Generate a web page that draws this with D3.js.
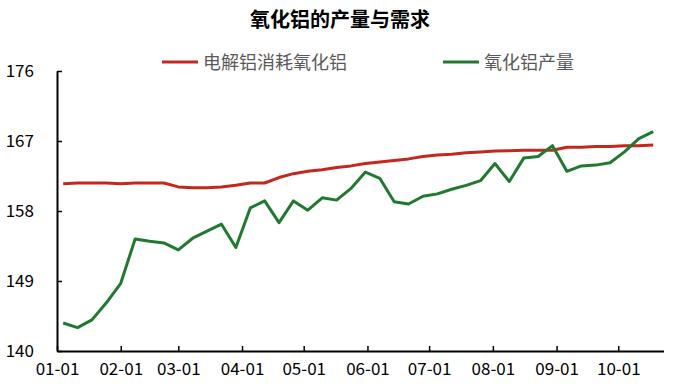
<html>
<script src='https://d3js.org/d3.v7.min.js'></script>
<style>
body {margin:0; background:#fff;}
text {font-family:"Noto Sans CJK SC","Noto Sans",sans-serif;}
</style>
<body onload='init()'>
<svg width=677 height=385></svg>
<script>
// weekly dates
const dates = ["2023-01-04","2023-01-11","2023-01-18","2023-01-25","2023-02-01","2023-02-08","2023-02-15",
  "2023-02-22","2023-03-01","2023-03-08","2023-03-15","2023-03-22","2023-03-29","2023-04-05","2023-04-12",
  "2023-04-19","2023-04-26","2023-05-03","2023-05-10","2023-05-17","2023-05-24","2023-05-31","2023-06-07",
  "2023-06-14","2023-06-21","2023-06-28","2023-07-05","2023-07-12","2023-07-19","2023-07-26","2023-08-02",
  "2023-08-09","2023-08-16","2023-08-23","2023-08-30","2023-09-06","2023-09-13","2023-09-20","2023-09-27",
  "2023-10-04","2023-10-11","2023-10-18"];

// 电解铝消耗氧化铝
const demand = [161.5,161.6,161.6,161.6,161.5,161.6,161.6,161.6,161.1,161.0,161.0,161.1,161.3,161.6,161.6,
  162.3,162.8,163.1,163.3,163.6,163.8,164.1,164.3,164.5,164.7,165.0,165.2,165.3,165.5,165.6,165.7,
  165.75,165.8,165.8,165.8,166.2,166.2,166.3,166.3,166.4,166.4,166.5];

// 氧化铝产量
const output = [143.6,143.0,144.0,146.2,148.7,154.4,154.1,153.9,153.0,154.5,155.4,156.3,153.3,158.4,159.3,
  156.5,159.3,158.1,159.7,159.4,160.9,163.0,162.2,159.2,158.9,159.9,160.2,160.8,161.3,161.9,164.1,
  161.8,164.8,165.0,166.4,163.1,163.8,163.9,164.2,165.6,167.3,168.2];

const yTicks = [140,149,158,167,176];
const monthTicks = ["2023-01-01","2023-02-01","2023-03-01","2023-04-01","2023-05-01","2023-06-01",
  "2023-07-01","2023-08-01","2023-09-01","2023-10-01"];

const seriesNames = ["电解铝消耗氧化铝","氧化铝产量"];
const colors = ["#c4281c","#1f7a30"];

function init() {
  const svg = d3.select("svg");
  const parse = d3.utcParse("%Y-%m-%d");

  const x = d3.scaleUtc()
      .domain([parse("2023-01-01"), parse("2023-10-23")])
      .range([57, 663.5]);
  const y = d3.scaleLinear().domain([140,176]).range([351,71]);

  // title
  svg.append("text")
      .attr("x", 340).attr("y", 27)
      .attr("text-anchor","middle")
      .style("font-size","20px").style("font-weight","bold")
      .text("氧化铝的产量与需求");

  // legend
  const leg = [{x:162, name:seriesNames[0], c:colors[0]}, {x:443, name:seriesNames[1], c:colors[1]}];
  leg.forEach(function(d) {
    svg.append("line").attr("x1",d.x).attr("x2",d.x+36).attr("y1",62).attr("y2",62)
        .attr("stroke",d.c).attr("stroke-width",3);
    svg.append("text").attr("x",d.x+41).attr("y",69)
        .style("font-size","18px").attr("fill","#595959").text(d.name);
  });

  const yAxis = d3.axisLeft(y).tickValues(yTicks).tickSize(-5).tickSizeOuter(0).tickPadding(23);
  const xAxis = d3.axisBottom(x).tickValues(monthTicks.map(parse))
      .tickFormat(d3.utcFormat("%m-%d")).tickSize(-5).tickSizeOuter(0).tickPadding(12);

  const gy = svg.append("g").attr("transform","translate(57,0)").call(yAxis);
  const gx = svg.append("g").attr("transform","translate(0,351)").call(xAxis);
  gx.select(".domain").attr("stroke-width",2);
  gy.select(".domain").attr("stroke-width",2);
  gx.selectAll(".tick line").attr("stroke-width",1.5);
  gy.selectAll(".tick line").attr("stroke-width",1.5);
  svg.selectAll(".tick text").style("font-size","17px").attr("fill","#000")
      .style("font-family","'Noto Sans CJK SC',sans-serif");

  const line = d3.line()
      .x(function(d,i) {return x(parse(dates[i]));})
      .y(function(d) {return y(d);});

  [demand, output].forEach(function(s,i) {
    svg.append("path").datum(s)
        .attr("fill","none").attr("stroke",colors[i]).attr("stroke-width",3)
        .attr("stroke-linejoin","round")
        .attr("d", line);
  });
}
</script>
</body>
</html>
